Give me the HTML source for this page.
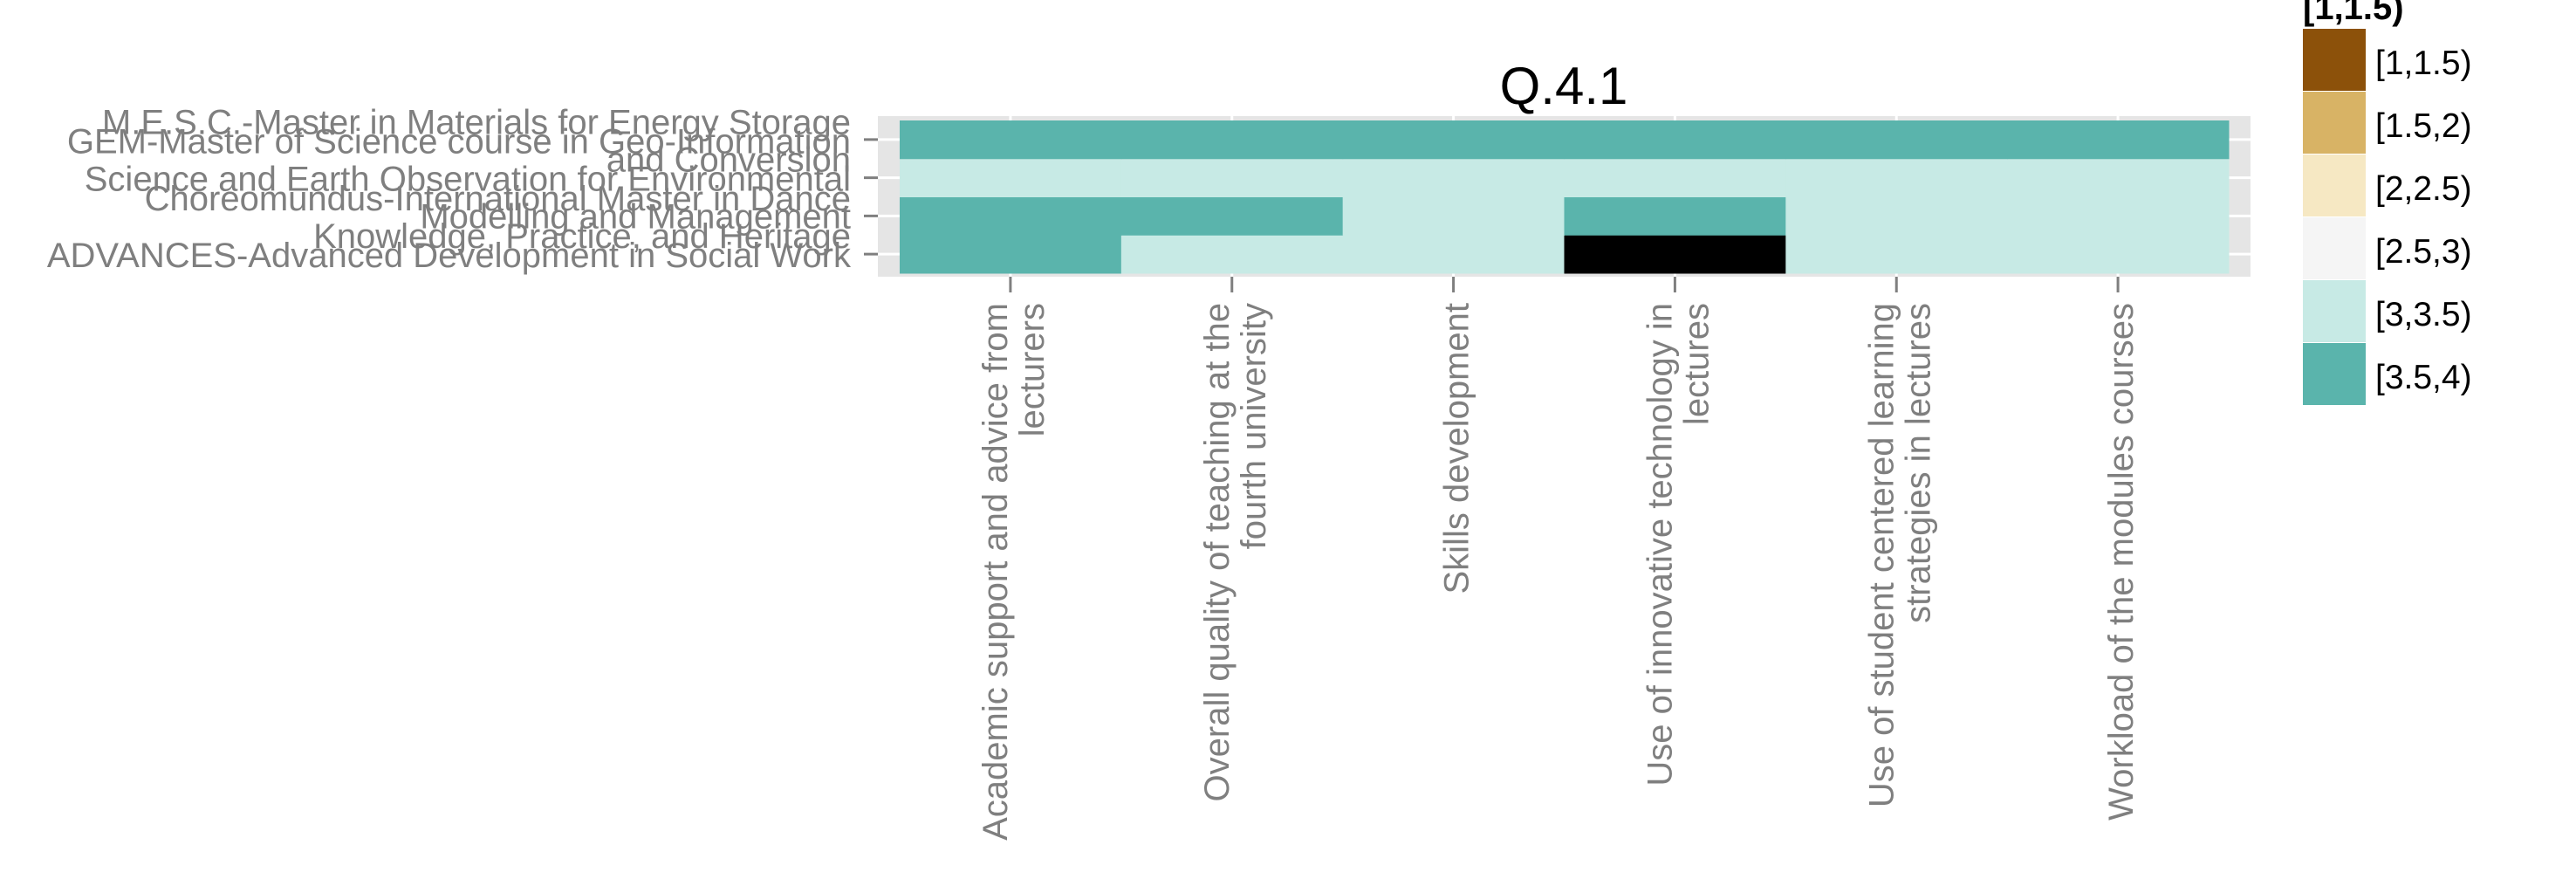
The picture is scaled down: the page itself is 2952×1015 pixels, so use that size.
<!DOCTYPE html>
<html><head><meta charset="utf-8">
<style>
html,body{margin:0;padding:0;background:#fff;}
svg{display:block;}
text{font-family:"Liberation Sans",Arial,sans-serif;}
</style></head>
<body>
<svg id="chart" width="2952" height="1015" viewBox="0 0 2952 1015" xmlns="http://www.w3.org/2000/svg">
  <rect x="0" y="0" width="2952" height="1015" fill="#ffffff"/>
  <text x="1792" y="119" font-size="60" text-anchor="middle" fill="#000">Q.4.1</text>
  <rect x="1006" y="133" width="1573" height="184" fill="#E5E5E5"/>
  <g id="grid"></g>
  <g id="tiles"></g>
  <g id="yaxis"></g>
  <g id="xaxis"></g>
  <g id="legend">
    <text x="2639" y="22" font-size="40" font-weight="bold" fill="#000">[1,1.5)</text>
  </g>
</svg>
<script>
const categories = ["Academic support and advice from|lecturers","Overall quality of teaching at the|fourth university","Skills development","Use of innovative technology in|lectures","Use of student centered learning|strategies in lectures","Workload of the modules courses"];
const programmes = ["ADVANCES-Advanced Development in Social Work","Choreomundus-International Master in Dance|Knowledge, Practice, and Heritage","GEM-Master of Science course in Geo-Information|Science and Earth Observation for Environmental|Modelling and Management","M.E.S.C.-Master in Materials for Energy Storage|and Conversion"];
// scores per programme (rows bottom->top), per category; null = missing
const scoresAdvances = [3.6, 3.2, 3.3, null, 3.3, 3.2];
const scoresChoreo = [3.7, 3.6, 3.4, 3.6, 3.3, 3.2];
const scoresGem = [3.3, 3.2, 3.1, 3.3, 3.2, 3.1];
const scoresMesc = [3.8, 3.7, 3.6, 3.7, 3.6, 3.5];
const legendLabels = ["[1,1.5)","[1.5,2)","[2,2.5)","[2.5,3)","[3,3.5)","[3.5,4)"];
const legendBreaks = [1, 1.5, 2, 2.5, 3, 3.5, 4];

const rows = [scoresAdvances, scoresChoreo, scoresGem, scoresMesc];
const palette = ["#8C510A","#D8B365","#F6E8C3","#F5F5F5","#C7EAE5","#5AB4AC"];
const NS = "http://www.w3.org/2000/svg";
const X0 = 1031, X1 = 2554, Y0 = 138, Y1 = 313;
const cw = (X1 - X0) / categories.length, rh = (Y1 - Y0) / programmes.length;
function xScale(i){ return X0 + i * cw; }
function yScale(r){ return Y1 - (r + 1) * rh; }
function colorFor(v){
  if (v === null) return "#000000";
  for (let k = 0; k < legendBreaks.length - 1; k++) if (v >= legendBreaks[k] && v < legendBreaks[k+1]) return palette[k];
  return palette[palette.length-1];
}
function mk(tag, attrs, parent){ const e = document.createElementNS(NS, tag); for (const k in attrs) e.setAttribute(k, attrs[k]); parent.appendChild(e); return e; }

const grid = document.getElementById('grid');
categories.forEach((c,i)=>{
  const l = mk('line',{x1:xScale(i)+cw/2,x2:xScale(i)+cw/2,y1:133,y2:317,stroke:'#fff','stroke-width':3},grid);
  
  
});
programmes.forEach((p,r)=>{
  const l = mk('line',{x1:1006,x2:2579,y1:yScale(r)+rh/2,y2:yScale(r)+rh/2,stroke:'#fff','stroke-width':3},grid);
  
  
});

const tiles = document.getElementById('tiles');
rows.forEach((vals,r)=>{
  vals.forEach((v,i)=>{
    const t = mk('rect',{x:xScale(i),y:yScale(r),width:cw+0.5,height:rh+0.5,fill:colorFor(v)},tiles);
    
    
  });
});

const yaxis = document.getElementById('yaxis');
programmes.forEach((p,r)=>{
  const cy = yScale(r)+rh/2;
  const tk = mk('line',{x1:990,x2:1006,y1:cy,y2:cy,stroke:'#7F7F7F','stroke-width':3},yaxis);
  
  
  const lines = p.split('|');
  const start = cy + 15 - (lines.length-1)*43/2;
  lines.forEach((ln,k)=>{
    const t = mk('text',{x:975,y:start+k*43,'font-size':40,'text-anchor':'end',fill:'#7F7F7F'},yaxis);
    t.textContent = ln;
    
    
  });
});

const xaxis = document.getElementById('xaxis');
categories.forEach((c,i)=>{
  const cx = xScale(i)+cw/2;
  const tk = mk('line',{x1:cx,x2:cx,y1:317,y2:335,stroke:'#7F7F7F','stroke-width':3},xaxis);
  
  
  const lines = c.split('|');
  const start = cx + 17 - (lines.length-1)*42/2;
  lines.forEach((ln,k)=>{
    const bx = start + k*42, by = 347;
    const t = mk('text',{x:bx,y:by,'font-size':40,'text-anchor':'end',fill:'#7F7F7F',transform:'rotate(-90 '+bx+' '+by+')'},xaxis);
    t.textContent = ln;
    
    
  });
});

const legend = document.getElementById('legend');
legendLabels.forEach((lab,k)=>{
  const y = 33 + k*72;
  const r = mk('rect',{x:2639,y:y,width:72,height:71,fill:palette[k]},legend);
  
  
  const t = mk('text',{x:2722,y:y+52,'font-size':39,fill:'#000'},legend);
  t.textContent = lab;
  
  
});
</script>
</body></html>
